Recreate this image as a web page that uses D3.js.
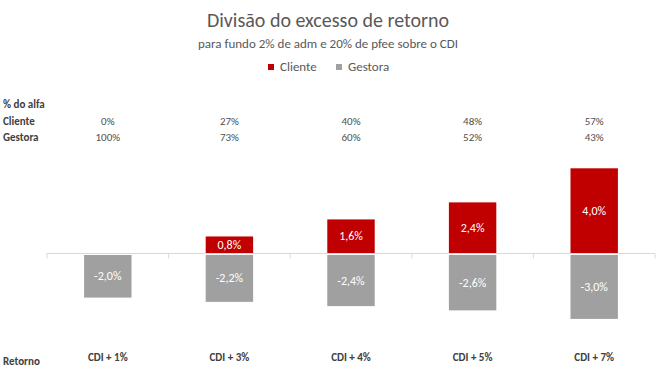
<!DOCTYPE html>
<html>
<head>
<meta charset="utf-8">
<script src="https://cdn.jsdelivr.net/npm/d3@7"></script>
<style>
  body { margin: 0; background: #fff; }
  svg { font-family: Carlito, Calibri, Lato, sans-serif; }
</style>
</head>
<body>
<div id="chart"></div>
<script>
let categories = ["CDI + 1%", "CDI + 3%", "CDI + 4%", "CDI + 5%", "CDI + 7%"];
let cliente = [0, 0.8, 1.6, 2.4, 4.0];
let gestora = [-2.0, -2.2, -2.4, -2.6, -3.0];
let clientePct = ["0%", "27%", "40%", "48%", "57%"];
let gestoraPct = ["100%", "73%", "60%", "52%", "43%"];

let width = 657, height = 369;
let fmt = v => d3.format(".1f")(v).replace("\u2212", "-").replace(".", ",") + "%";

let x = d3.scaleBand()
  .domain(categories)
  .range([47, 655])
  .paddingInner(0.61)
  .paddingOuter(0.305);

let y = d3.scaleLinear()
  .domain([-4, 5])
  .range([338.7, 147]);

const svg = d3.select("#chart").append("svg")
  .attr("width", width)
  .attr("height", height);

// title + subtitle
svg.append("text")
  .attr("x", 328).attr("y", 27)
  .attr("text-anchor", "middle")
  .attr("font-size", "20px")
  .attr("fill", "#595959")
  .text("Divisão do excesso de retorno");

svg.append("text")
  .attr("x", 328).attr("y", 48)
  .attr("text-anchor", "middle")
  .attr("font-size", "13px")
  .attr("fill", "#595959")
  .text("para fundo 2% de adm e 20% de pfee sobre o CDI");

// legend
let legend = svg.append("g");
[["Cliente", "#c00000", 268], ["Gestora", "#a0a0a0", 336]].forEach(function(d) {
  legend.append("rect")
    .attr("x", d[2]).attr("y", 64)
    .attr("width", 6).attr("height", 6)
    .attr("fill", d[1]);
  legend.append("text")
    .attr("x", d[2] + 12).attr("y", 71)
    .attr("font-size", "13px")
    .attr("fill", "#595959")
    .text(d[0]);
});

// table of % do alfa
let rowLabels = [["% do alfa", 108], ["Cliente", 125], ["Gestora", 141]];
rowLabels.forEach(function(r) {
  svg.append("text")
    .attr("x", 3).attr("y", r[1])
    .attr("font-size", "11px")
    .attr("font-weight", "bold")
    .attr("fill", "#404040")
    .text(r[0]);
});

svg.append("g")
  .selectAll("text")
  .data(clientePct)
  .join("text")
    .attr("x", (d, i) => x(categories[i]) + x.bandwidth() / 2)
    .attr("y", 125)
    .attr("text-anchor", "middle")
    .attr("font-size", "11px")
    .attr("fill", "#505050")
    .text(d => d);

svg.append("g")
  .selectAll("text")
  .data(gestoraPct)
  .join("text")
    .attr("x", (d, i) => x(categories[i]) + x.bandwidth() / 2)
    .attr("y", 141)
    .attr("text-anchor", "middle")
    .attr("font-size", "11px")
    .attr("fill", "#505050")
    .text(d => d);

// axis line with ticks
let xAxis = g => g
  .attr("transform", `translate(0,${y(0)})`)
  .call(d3.axisBottom(x).tickSize(0).tickFormat(""))
  .call(g => g.select(".domain").remove())
  .call(g => g.append("line")
    .attr("x1", 47).attr("x2", 655)
    .attr("stroke", "#d9d9d9"))
  .call(g => g.selectAll(".bound")
    .data(d3.range(categories.length + 1))
    .join("line")
      .attr("x1", i => 47 + i * x.step())
      .attr("x2", i => 47 + i * x.step())
      .attr("y1", 0).attr("y2", 5)
      .attr("stroke", "#d9d9d9"));

// bars
let gap = 1.5;
svg.append("g")
  .selectAll("rect")
  .data(cliente)
  .join("rect")
    .attr("x", (d, i) => x(categories[i]))
    .attr("y", d => y(d))
    .attr("width", x.bandwidth())
    .attr("height", d => y(0) - y(d))
    .attr("fill", "#c00000");

svg.append("g")
  .selectAll("rect")
  .data(gestora)
  .join("rect")
    .attr("x", (d, i) => x(categories[i]))
    .attr("y", y(0) + gap)
    .attr("width", x.bandwidth())
    .attr("height", d => y(d) - y(0))
    .attr("fill", "#a0a0a0");

svg.append("g").call(xAxis);

// data labels
svg.append("g")
  .selectAll("text")
  .data(cliente.map((v, i) => ({v, i})).filter(d => d.v > 0))
  .join("text")
    .attr("x", d => x(categories[d.i]) + x.bandwidth() / 2)
    .attr("y", d => (y(d.v) + y(0)) / 2 + 4)
    .attr("text-anchor", "middle")
    .attr("font-size", "12px")
    .attr("fill", "#fff")
    .text(d => fmt(d.v));

svg.append("g")
  .selectAll("text")
  .data(gestora)
  .join("text")
    .attr("x", (d, i) => x(categories[i]) + x.bandwidth() / 2)
    .attr("y", d => (y(d) + y(0)) / 2 + gap + 4)
    .attr("text-anchor", "middle")
    .attr("font-size", "12px")
    .attr("fill", "#fff")
    .text(d => fmt(d));

// category labels
svg.append("text")
  .attr("x", 3).attr("y", 365)
  .attr("font-size", "11px")
  .attr("font-weight", "bold")
  .attr("fill", "#404040")
  .text("Retorno");

svg.append("g")
  .selectAll("text")
  .data(categories)
  .join("text")
    .attr("x", d => x(d) + x.bandwidth() / 2)
    .attr("y", 361)
    .attr("text-anchor", "middle")
    .attr("font-size", "11px")
    .attr("font-weight", "bold")
    .attr("fill", "#404040")
    .text(d => d);
</script>
</body>
</html>
